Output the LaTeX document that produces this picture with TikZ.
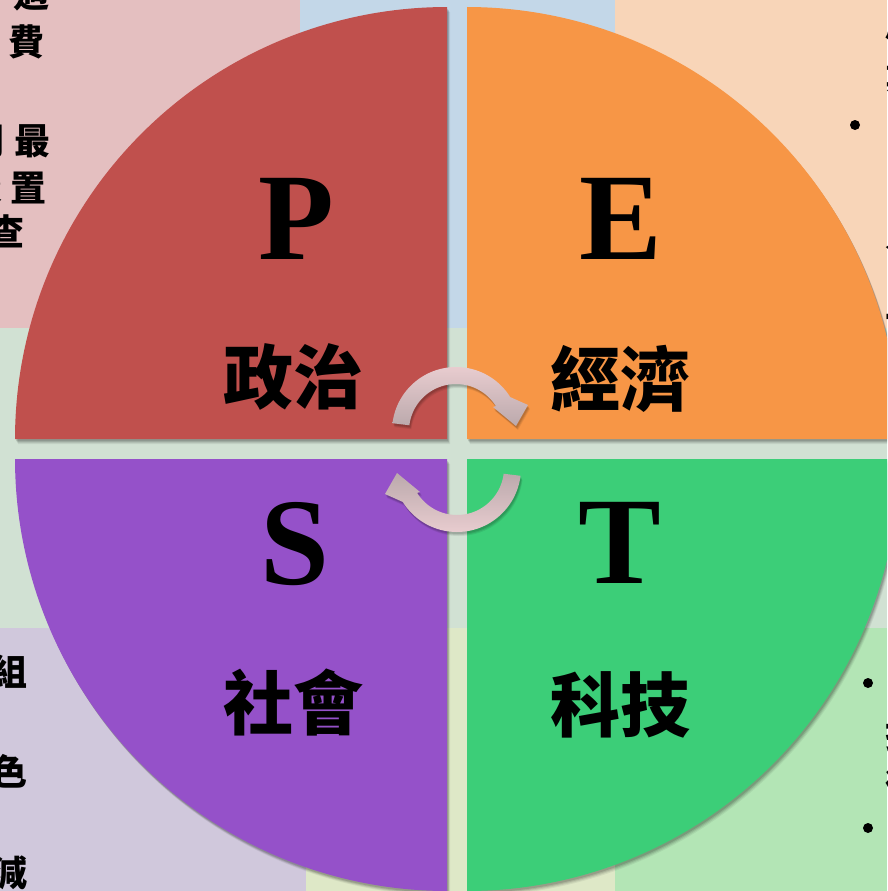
\documentclass[tikz,border=0pt]{standalone}
\usepackage{fontspec}
\setmainfont{Liberation Serif}
\newfontfamily\cjk{Noto Sans CJK TC}
\definecolor{qred}{HTML}{C0504D}
\definecolor{qorange}{HTML}{F79646}
\definecolor{qpurple}{HTML}{9551C9}
\definecolor{qgreen}{HTML}{3CCE78}
\definecolor{bgpink}{HTML}{E4BFC0}
\definecolor{bgblue}{HTML}{C3D7E8}
\definecolor{bgpeach}{HTML}{F8D5B8}
\definecolor{bgmid}{HTML}{D1E1D3}
\definecolor{bglav}{HTML}{D0C8DC}
\definecolor{bgyel}{HTML}{DEE8C7}
\definecolor{bggreen}{HTML}{B3E5B5}
\definecolor{arrlight}{HTML}{E8CCCF}
\definecolor{arrdark}{HTML}{BBA9AC}
\begin{document}
\begin{tikzpicture}[x=1pt,y=-1pt,
  bigletter/.style={font=\fontsize{124}{124}\selectfont\bfseries, inner sep=0pt},
  cnlabel/.style={font=\cjk\bfseries\fontsize{70}{70}\selectfont, inner sep=0pt},
  edgetext/.style={font=\cjk\bfseries\fontsize{36}{36}\selectfont, inner sep=0pt},
  bulletdot/.style={circle, fill=black, inner sep=0pt, minimum size=10pt},
  arrowshade/.style={line width=0pt},
]
\useasboundingbox (0,0) rectangle (887,891);
\clip (0,0) rectangle (887,891);
% background panels
\fill[bgpink]  (0,0) rectangle (300,328);
\fill[bgblue]  (300,0) rectangle (615,328);
\fill[bgpeach] (615,0) rectangle (887,328);
\fill[bgmid]   (0,328) rectangle (887,628);
\fill[bglav]   (0,628) rectangle (306,891);
\fill[bgyel]   (306,628) rectangle (615,891);
\fill[bggreen] (615,628) rectangle (887,891);
% edge text fragments (cut by the picture border, as in the reference)
\node[edgetext] (tl1) at (31,-6) {過};
\node[edgetext] (tl2) at (27,42) {費};
\node[edgetext] (tl3a) at (-13,141) {間};
\node[edgetext] (tl3) at (32,141) {最};
\node[edgetext] (tl4a) at (-15,188) {設};
\node[edgetext] (tl4) at (28,188) {置};
\node[edgetext] (tl5) at (6,231) {查};
\node[edgetext,anchor=east] (bl1) at (28,671) {組};
\node[edgetext,anchor=east] (bl2) at (28,771) {色};
\node[edgetext,anchor=east] (bl3) at (28,873) {減};
\node[edgetext,anchor=west] (tr1) at (885,24) {產};
\node[edgetext,anchor=west] (tr2) at (885,78) {業};
\node[edgetext,anchor=west] (tr3) at (885,235) {人};
\node[edgetext,anchor=west] (tr4) at (885,305) {工};
\node[edgetext,anchor=west] (br1) at (885,735) {技};
\node[edgetext,anchor=west] (br2) at (885,783) {術};
\node[edgetext,anchor=west] (br3) at (885,890) {工};
\node[bulletdot] (b1) at (855,125) {};
\node[bulletdot] (b2) at (868,683) {};
\node[bulletdot] (b3) at (868,828) {};
% quadrant shadows
\foreach \cx/\cy/\a/\b in {447/439/180/270, 467/439/270/360, 467/459/0/90, 447/459/90/180}{
  \foreach \s/\op in {5/0.06, 4/0.08, 3/0.10, 2/0.12}{
    \fill[black,opacity=\op,shift={(\s*0.6,\s)}] (\cx,\cy) -- plot[domain=\a:\b,samples=90] ({\cx+432*cos(\x)},{\cy+432*sin(\x)}) -- cycle;
  }
}
% quadrants
\fill[qred]    (447,439) -- plot[domain=180:270,samples=90] ({447+432*cos(\x)},{439+432*sin(\x)}) -- cycle;
\fill[qorange] (467,439) -- plot[domain=270:360,samples=90] ({467+432*cos(\x)},{439+432*sin(\x)}) -- cycle;
\fill[qgreen]  (467,459) -- plot[domain=0:90,samples=90] ({467+432*cos(\x)},{459+432*sin(\x)}) -- cycle;
\fill[qpurple] (447,459) -- plot[domain=90:180,samples=90] ({447+432*cos(\x)},{459+432*sin(\x)}) -- cycle;
% letters and labels
\node[bigletter] (P) at (296,219) {P};
\node[bigletter] (E) at (621,219) {E};
\node[bigletter] (S) at (295,544) {S};
\node[bigletter] (T) at (620,543) {T};
\node[cnlabel] (zz) at (293,377) {政治};
\node[cnlabel] (jj) at (620,379) {經濟};
\node[cnlabel] (sh) at (293,703) {社會};
\node[cnlabel] (kj) at (620,705) {科技};
% cycle arrows: shadows
\foreach \s/\op in {4/0.07, 3/0.09, 2/0.11}{
  \fill[black,opacity=\op,shift={(\s*0.5,\s)}]
    plot[domain=187:328,samples=40] ({456+64*cos(\x)},{431+64*sin(\x)})
    -- (528,405) -- (516,426) -- (493,407)
    -- plot[domain=328:187,samples=40] ({456+47*cos(\x)},{431+47*sin(\x)}) -- cycle;
  \fill[black,opacity=\op,shift={(\s*0.5,\s)}]
    plot[domain=7:148,samples=40] ({457+64*cos(\x)},{468+64*sin(\x)})
    -- (385,494) -- (397,473) -- (420,492)
    -- plot[domain=148:7,samples=40] ({457+47*cos(\x)},{468+47*sin(\x)}) -- cycle;
}
% cycle arrows
\shade[arrowshade, top color=arrlight, bottom color=arrdark]
    plot[domain=187:328,samples=40] ({456+64*cos(\x)},{431+64*sin(\x)})
    -- (528,405) -- (516,426) -- (493,407)
    -- plot[domain=328:187,samples=40] ({456+47*cos(\x)},{431+47*sin(\x)}) -- cycle;
\shade[arrowshade, top color=arrdark, bottom color=arrlight]
    plot[domain=7:148,samples=40] ({457+64*cos(\x)},{468+64*sin(\x)})
    -- (385,494) -- (397,473) -- (420,492)
    -- plot[domain=148:7,samples=40] ({457+47*cos(\x)},{468+47*sin(\x)}) -- cycle;
\end{tikzpicture}
\end{document}
